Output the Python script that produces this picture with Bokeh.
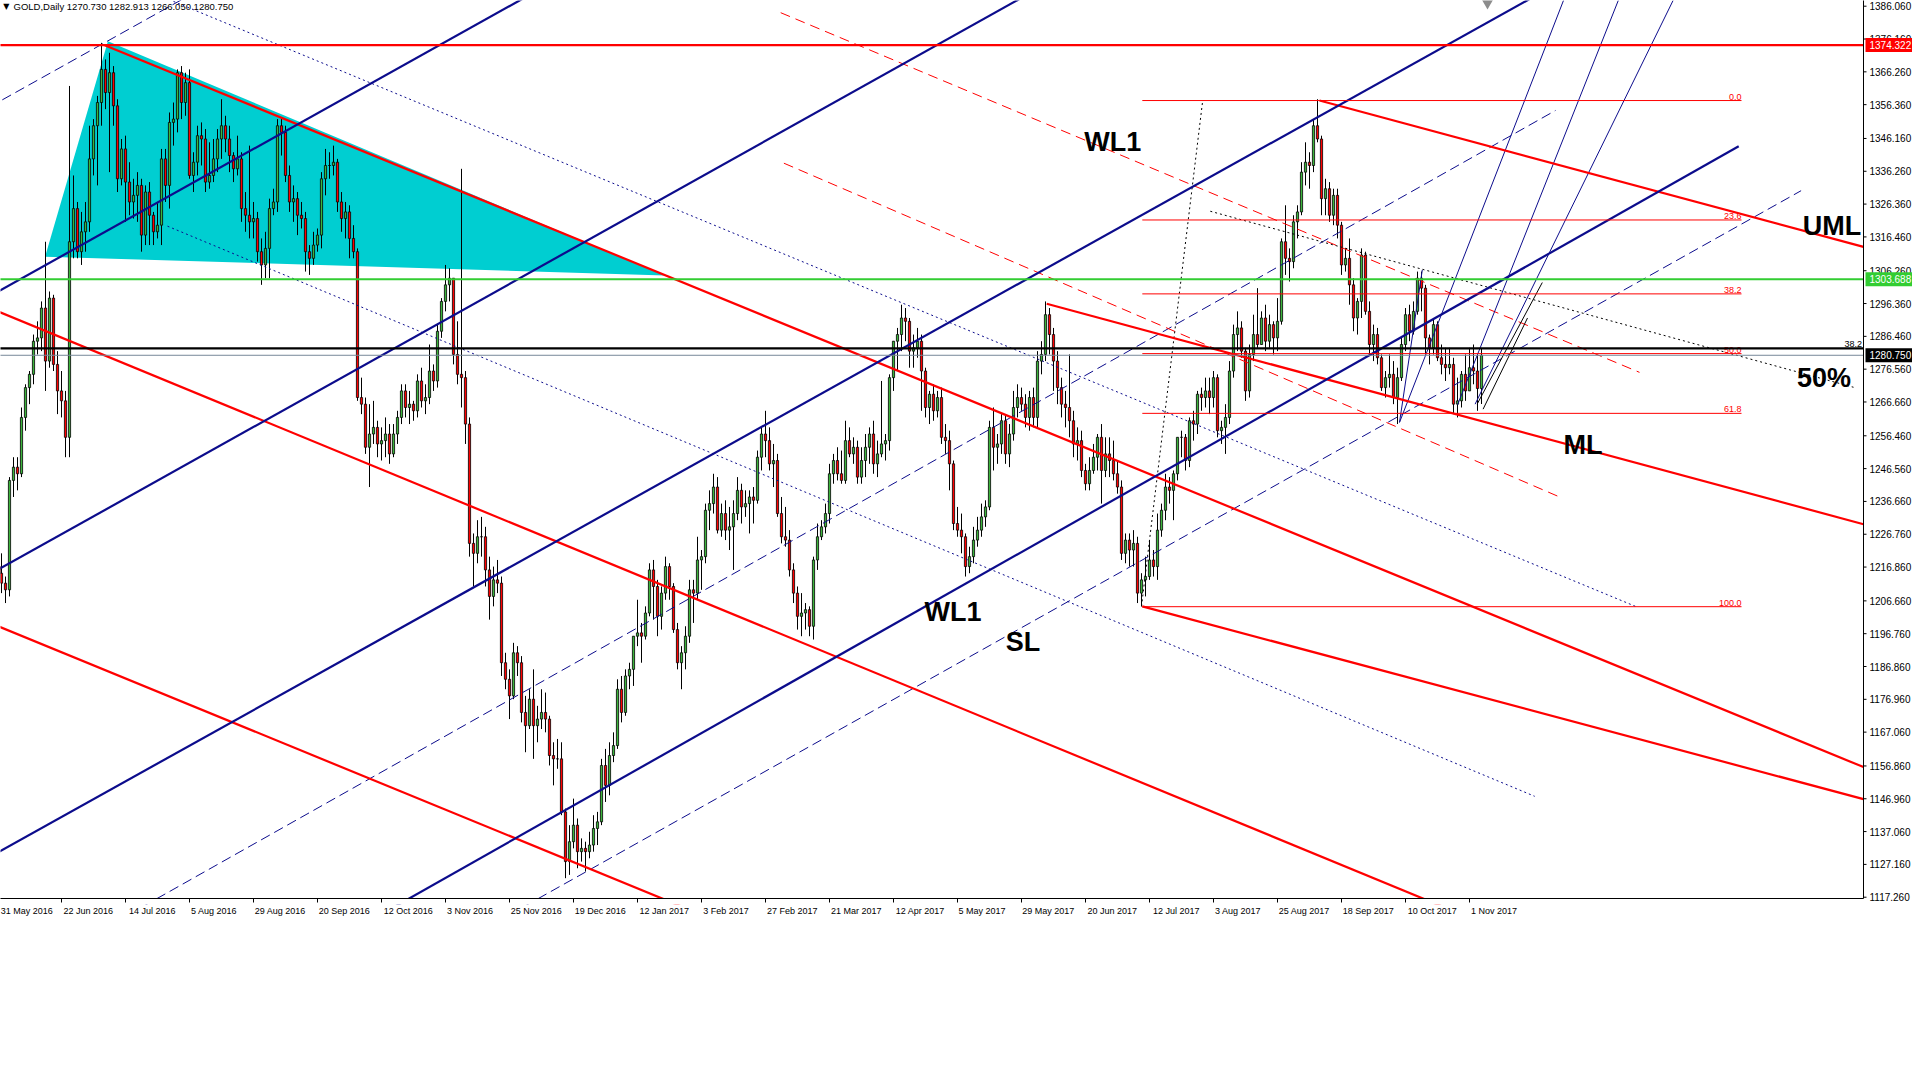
from bokeh.plotting import figure
from bokeh.models import Range1d, FixedTicker, Label
from bokeh.embed import file_html
from bokeh.resources import INLINE
from bokeh.core.properties import value

# ---------- daily bars, GOLD (index = trading day since 31 May 2016) ----------
opens = [
    1217, 1215, 1212, 1210, 1243, 1247, 1245, 1262, 1271, 1275, 1285, 1286, 1295, 1279, 1298, 1278, 1270, 1267, 1256, 1315,
    1325, 1312, 1318, 1321, 1340, 1350, 1357, 1367, 1360, 1366, 1356, 1334, 1343, 1333, 1327, 1329, 1332, 1317, 1330, 1323,
    1318, 1320, 1340, 1332, 1351, 1352, 1366, 1357, 1363, 1335, 1339, 1347, 1346, 1333, 1335, 1340, 1346, 1350, 1346, 1341,
    1337, 1340, 1325, 1323, 1321, 1322, 1312, 1308, 1313, 1325, 1327, 1350, 1348, 1335, 1327, 1328, 1323, 1322, 1312, 1310,
    1314, 1317, 1334, 1338, 1338, 1339, 1327, 1322, 1324, 1316, 1312, 1268, 1266, 1253, 1257, 1259, 1254, 1255, 1257, 1251,
    1257, 1262, 1270, 1265, 1266, 1264, 1273, 1267, 1268, 1276, 1273, 1288, 1297, 1302, 1304, 1281, 1275, 1274, 1260, 1224,
    1221, 1226, 1226, 1216, 1208, 1213, 1212, 1188, 1183, 1178, 1191, 1188, 1173, 1169, 1177, 1169, 1171, 1173, 1171, 1160,
    1159, 1159, 1143, 1128, 1134, 1139, 1131, 1132, 1131, 1133, 1138, 1140, 1157, 1151, 1160, 1163, 1180, 1173, 1184, 1186,
    1196, 1197, 1196, 1203, 1216, 1211, 1202, 1209, 1217, 1211, 1198, 1188, 1191, 1196, 1210, 1209, 1219, 1220, 1234, 1236,
    1241, 1228, 1233, 1228, 1229, 1233, 1240, 1235, 1236, 1238, 1237, 1250, 1257, 1255, 1248, 1249, 1233, 1226, 1225, 1216,
    1209, 1202, 1203, 1204, 1199, 1219, 1226, 1229, 1233, 1245, 1249, 1245, 1243, 1255, 1251, 1253, 1244, 1249, 1253, 1257,
    1248, 1251, 1254, 1255, 1274, 1285, 1287, 1292, 1291, 1282, 1283, 1285, 1276, 1265, 1269, 1264, 1268, 1256, 1255, 1248,
    1230, 1228, 1226, 1217, 1220, 1225, 1228, 1232, 1235, 1259, 1253, 1254, 1261, 1251, 1257, 1265, 1268, 1266, 1262, 1268,
    1262, 1279, 1281, 1293, 1287, 1279, 1271, 1266, 1265, 1261, 1254, 1255, 1246, 1242, 1246, 1250, 1256, 1246, 1251, 1249,
    1245, 1241, 1221, 1225, 1222, 1224, 1209, 1213, 1214, 1219, 1217, 1228, 1234, 1241, 1240, 1245, 1256, 1256, 1249, 1261,
    1260, 1269, 1268, 1270, 1268, 1274, 1258, 1259, 1262, 1276, 1287, 1289, 1282, 1270, 1281, 1287, 1284, 1292, 1285, 1290,
    1286, 1291, 1315, 1310, 1309, 1321, 1324, 1336, 1339, 1338, 1350, 1346, 1328, 1331, 1323, 1329, 1320, 1308, 1310, 1302,
    1292, 1297, 1311, 1294, 1284, 1287, 1280, 1271, 1274, 1275, 1268, 1274, 1284, 1293, 1288, 1294, 1304, 1301, 1286, 1283,
    1290, 1280, 1278, 1277, 1278, 1266, 1267, 1275, 1270, 1277, 1276, 1270.73,
]
highs = [
    1218, 1221, 1214, 1244, 1250, 1250, 1265, 1272, 1276, 1287, 1291, 1297, 1315, 1300, 1299, 1282, 1276, 1270, 1362, 1335,
    1327, 1324, 1327, 1350, 1352, 1359, 1375, 1370, 1372, 1368, 1358, 1346, 1347, 1339, 1334, 1336, 1334, 1332, 1333, 1324,
    1327, 1343, 1343, 1354, 1357, 1367, 1368, 1366, 1367, 1342, 1350, 1351, 1349, 1345, 1346, 1349, 1358, 1353, 1350, 1342,
    1347, 1342, 1330, 1344, 1327, 1324, 1316, 1318, 1328, 1331, 1352, 1352, 1350, 1338, 1332, 1330, 1327, 1324, 1314, 1318,
    1319, 1336, 1343, 1342, 1344, 1340, 1330, 1327, 1326, 1320, 1313, 1274, 1268, 1266, 1267, 1261, 1259, 1262, 1260, 1260,
    1264, 1272, 1272, 1270, 1267, 1275, 1277, 1272, 1284, 1278, 1290, 1298, 1308, 1307, 1304, 1291, 1337, 1276, 1262, 1227,
    1231, 1232, 1229, 1220, 1217, 1219, 1214, 1191, 1186, 1194, 1193, 1190, 1178, 1180, 1186, 1175, 1180, 1179, 1172, 1164,
    1165, 1164, 1144, 1139, 1147, 1141, 1135, 1134, 1137, 1142, 1143, 1159, 1162, 1164, 1167, 1183, 1184, 1186, 1188, 1196,
    1207, 1200, 1205, 1218, 1219, 1213, 1211, 1220, 1218, 1212, 1200, 1193, 1199, 1213, 1213, 1226, 1222, 1236, 1240, 1245,
    1244, 1236, 1237, 1235, 1237, 1244, 1242, 1240, 1240, 1241, 1252, 1259, 1264, 1259, 1254, 1251, 1238, 1235, 1228, 1218,
    1211, 1209, 1206, 1205, 1220, 1230, 1231, 1236, 1248, 1251, 1253, 1252, 1261, 1259, 1256, 1255, 1253, 1257, 1259, 1261,
    1255, 1273, 1257, 1275, 1285, 1289, 1296, 1295, 1292, 1287, 1289, 1287, 1277, 1270, 1272, 1270, 1271, 1260, 1258, 1249,
    1235, 1233, 1227, 1223, 1229, 1232, 1236, 1237, 1261, 1265, 1257, 1263, 1263, 1260, 1270, 1272, 1271, 1269, 1270, 1271,
    1282, 1285, 1297, 1295, 1289, 1282, 1274, 1270, 1281, 1264, 1259, 1258, 1248, 1250, 1254, 1257, 1260, 1256, 1256, 1255,
    1249, 1243, 1227, 1227, 1228, 1226, 1215, 1220, 1225, 1222, 1233, 1236, 1245, 1244, 1246, 1256, 1258, 1257, 1262, 1264,
    1270, 1271, 1274, 1274, 1276, 1275, 1261, 1266, 1279, 1290, 1294, 1291, 1283, 1284, 1293, 1301, 1294, 1296, 1293, 1291,
    1298, 1316, 1326, 1313, 1323, 1326, 1339, 1345, 1342, 1352, 1358, 1347, 1334, 1333, 1331, 1331, 1321, 1313, 1316, 1304,
    1298, 1313, 1312, 1297, 1290, 1289, 1281, 1276, 1281, 1279, 1277, 1286, 1295, 1296, 1297, 1306, 1306, 1302, 1287, 1292,
    1291, 1284, 1283, 1283, 1280, 1274, 1276, 1281, 1283, 1284, 1281, 1282.913,
]
lows = [
    1208, 1209, 1206, 1208, 1238, 1240, 1244, 1258, 1266, 1272, 1281, 1282, 1270, 1277, 1276, 1263, 1262, 1250, 1250, 1310,
    1310, 1308, 1312, 1318, 1335, 1332, 1350, 1355, 1336, 1350, 1330, 1332, 1321, 1323, 1322, 1321, 1312, 1314, 1314, 1314,
    1316, 1314, 1327, 1325, 1344, 1348, 1352, 1353, 1334, 1330, 1335, 1338, 1330, 1331, 1333, 1336, 1340, 1342, 1336, 1333,
    1335, 1321, 1318, 1316, 1316, 1309, 1302, 1304, 1304, 1323, 1324, 1341, 1333, 1324, 1321, 1317, 1319, 1306, 1305, 1308,
    1312, 1313, 1329, 1334, 1335, 1324, 1318, 1316, 1310, 1310, 1267, 1263, 1251, 1241, 1254, 1250, 1249, 1250, 1248, 1250,
    1254, 1260, 1262, 1260, 1261, 1262, 1265, 1263, 1266, 1270, 1271, 1286, 1294, 1297, 1278, 1272, 1265, 1254, 1220, 1211,
    1218, 1220, 1211, 1201, 1205, 1209, 1184, 1180, 1171, 1177, 1184, 1170, 1161, 1168, 1159, 1164, 1168, 1167, 1157, 1151,
    1156, 1142, 1123, 1124, 1132, 1126, 1128, 1125, 1129, 1131, 1133, 1139, 1146, 1148, 1158, 1162, 1170, 1172, 1180, 1181,
    1193, 1188, 1195, 1202, 1201, 1196, 1198, 1207, 1207, 1197, 1186, 1180, 1186, 1194, 1200, 1207, 1210, 1218, 1228, 1233,
    1227, 1226, 1225, 1222, 1216, 1231, 1230, 1232, 1227, 1230, 1236, 1246, 1250, 1246, 1241, 1232, 1224, 1223, 1214, 1206,
    1198, 1196, 1198, 1196, 1195, 1216, 1225, 1227, 1230, 1242, 1243, 1242, 1242, 1250, 1248, 1242, 1242, 1244, 1248, 1245,
    1244, 1250, 1249, 1252, 1270, 1276, 1282, 1285, 1277, 1277, 1280, 1264, 1262, 1260, 1261, 1262, 1254, 1251, 1240, 1228,
    1226, 1221, 1214, 1215, 1218, 1223, 1226, 1229, 1234, 1246, 1248, 1251, 1248, 1247, 1255, 1262, 1264, 1259, 1258, 1259,
    1259, 1275, 1279, 1281, 1270, 1266, 1262, 1259, 1256, 1250, 1249, 1244, 1240, 1240, 1245, 1246, 1236, 1244, 1244, 1243,
    1239, 1219, 1218, 1217, 1217, 1206, 1205, 1208, 1213, 1214, 1213, 1226, 1231, 1236, 1231, 1243, 1250, 1246, 1247, 1255,
    1257, 1264, 1265, 1263, 1265, 1256, 1254, 1251, 1260, 1274, 1282, 1280, 1267, 1268, 1279, 1283, 1284, 1282, 1283, 1281,
    1282, 1290, 1305, 1303, 1307, 1316, 1323, 1332, 1331, 1336, 1345, 1323, 1323, 1321, 1320, 1316, 1305, 1306, 1296, 1288,
    1287, 1292, 1293, 1281, 1279, 1278, 1270, 1268, 1271, 1266, 1260, 1273, 1282, 1285, 1287, 1293, 1294, 1281, 1278, 1281,
    1279, 1275, 1273, 1275, 1263, 1262, 1265, 1267, 1270, 1272, 1264, 1266.05,
]
closes = [
    1215, 1212, 1210, 1243, 1247, 1245, 1262, 1271, 1275, 1285, 1286, 1295, 1279, 1298, 1278, 1270, 1267, 1256, 1315, 1325,
    1312, 1318, 1321, 1340, 1350, 1357, 1367, 1360, 1366, 1356, 1334, 1343, 1333, 1327, 1329, 1332, 1317, 1330, 1323, 1318,
    1320, 1340, 1332, 1351, 1352, 1366, 1357, 1363, 1335, 1339, 1347, 1346, 1333, 1335, 1340, 1346, 1350, 1346, 1341, 1337,
    1340, 1325, 1323, 1321, 1322, 1312, 1308, 1313, 1325, 1327, 1350, 1348, 1335, 1327, 1328, 1323, 1322, 1312, 1310, 1314,
    1317, 1334, 1338, 1338, 1339, 1327, 1322, 1324, 1316, 1312, 1268, 1266, 1253, 1257, 1259, 1254, 1255, 1257, 1251, 1257,
    1262, 1270, 1265, 1266, 1264, 1273, 1267, 1268, 1276, 1273, 1288, 1297, 1302, 1304, 1281, 1275, 1274, 1260, 1224, 1221,
    1226, 1226, 1216, 1208, 1213, 1212, 1188, 1183, 1178, 1191, 1188, 1173, 1169, 1177, 1169, 1171, 1173, 1171, 1160, 1159,
    1159, 1143, 1128, 1134, 1139, 1131, 1132, 1131, 1133, 1138, 1140, 1157, 1151, 1160, 1163, 1180, 1173, 1184, 1186, 1196,
    1197, 1196, 1203, 1216, 1211, 1202, 1209, 1217, 1211, 1198, 1188, 1191, 1196, 1210, 1209, 1219, 1220, 1234, 1236, 1241,
    1228, 1233, 1228, 1229, 1233, 1240, 1235, 1236, 1238, 1237, 1250, 1257, 1255, 1248, 1249, 1233, 1226, 1225, 1216, 1209,
    1202, 1203, 1204, 1199, 1219, 1226, 1229, 1233, 1245, 1249, 1245, 1243, 1255, 1251, 1253, 1244, 1249, 1253, 1257, 1248,
    1251, 1254, 1255, 1274, 1285, 1287, 1292, 1291, 1282, 1283, 1285, 1276, 1265, 1269, 1264, 1268, 1256, 1255, 1248, 1230,
    1228, 1226, 1217, 1220, 1225, 1228, 1232, 1235, 1259, 1253, 1254, 1261, 1251, 1257, 1265, 1268, 1266, 1262, 1268, 1262,
    1279, 1281, 1293, 1287, 1279, 1271, 1266, 1265, 1261, 1254, 1255, 1246, 1242, 1246, 1250, 1256, 1246, 1251, 1249, 1245,
    1241, 1221, 1225, 1222, 1224, 1209, 1213, 1214, 1219, 1217, 1228, 1234, 1241, 1240, 1245, 1256, 1256, 1249, 1261, 1260,
    1269, 1268, 1270, 1268, 1274, 1258, 1259, 1262, 1276, 1287, 1289, 1282, 1270, 1281, 1287, 1284, 1292, 1285, 1290, 1286,
    1291, 1315, 1310, 1309, 1321, 1324, 1336, 1339, 1338, 1350, 1346, 1328, 1331, 1323, 1329, 1320, 1308, 1310, 1302, 1292,
    1297, 1311, 1294, 1284, 1287, 1280, 1271, 1274, 1275, 1268, 1274, 1284, 1293, 1288, 1294, 1304, 1301, 1286, 1283, 1290,
    1280, 1278, 1277, 1278, 1266, 1267, 1275, 1270, 1277, 1276, 1270.73, 1280.75,
]

date_labels = ["31 May 2016", "22 Jun 2016", "14 Jul 2016", "5 Aug 2016", "29 Aug 2016", "20 Sep 2016",
               "12 Oct 2016", "3 Nov 2016", "25 Nov 2016", "19 Dec 2016", "12 Jan 2017", "3 Feb 2017",
               "27 Feb 2017", "21 Mar 2017", "12 Apr 2017", "5 May 2017", "29 May 2017", "20 Jun 2017",
               "12 Jul 2017", "3 Aug 2017", "25 Aug 2017", "18 Sep 2017", "10 Oct 2017", "1 Nov 2017"]
bars_per_label = 16

price_ticks = [1386.060, 1376.160, 1366.260, 1356.360, 1346.160, 1336.260, 1326.360, 1316.460, 1306.260,
               1296.360, 1286.460, 1276.560, 1266.660, 1256.460, 1246.560, 1236.660, 1226.760, 1216.860,
               1206.660, 1196.760, 1186.860, 1176.960, 1167.060, 1156.860, 1146.960, 1137.060, 1127.160, 1117.260]

header = "GOLD,Daily  1270.730 1282.913 1266.050 1280.750"

# ---------- objects drawn on the chart: (bar0, price0, bar1, price1, extend) ----------
red_thick = [
    (26.8, 1374.3, 425.75, 1176.7, "right"),   # from the July 2016 top
    (0.5, 1293.8, 356.3, 1116.9, "both"),
    (0.75, 1198.7, 166.1, 1116.9, "both"),
    (262.3, 1296.3, 308.35, 1281.3, "right"),  # ML
    (330.5, 1357.6, 466.4, 1313.5, "right"),   # UML
    (286.2, 1205.0, 425.75, 1160.0, "right"),
]
red_dashed = [
    (195.8, 1384.1, 410.5, 1275.6, "none"),
    (196.6, 1338.7, 391.3, 1237.6, "none"),
]
blue_thick = [
    (0.49, 1300.2, 130.1, 1387.5, "both"),
    (0.49, 1216.3, 254.4, 1387.5, "both"),
    (0.75, 1131.2, 382.4, 1387.8, "both"),
    (175.75, 1166.6, 435.3, 1343.8, "left"),   # WL1
]
blue_dashed = [
    (0.6, 1357.4, 46.0, 1388.0, "both"),
    (37.6, 1115.3, 389.5, 1354.6, "left"),
    (132.9, 1115.3, 450.9, 1330.4, "left"),    # SL
]
blue_dotted = [
    (44.0, 1387.5, 409.5, 1205.0, "none"),
    (42.5, 1319.7, 384.3, 1147.7, "none"),
]
blue_thin = [
    (350.5, 1260.5, 356.2, 1306.5, "none"),
    (350.5, 1260.5, 391.5, 1387.8, "none"),
    (365.0, 1265.8, 405.2, 1387.8, "none"),
    (369.4, 1266.0, 418.9, 1387.8, "none"),
]
black_thin = [
    (369.9, 1266.0, 386.2, 1302.7, "none"),
    (371.4, 1264.5, 382.5, 1292.0, "none"),
]
black_dotted = [
    (286.0, 1205.0, 301.3, 1357.6, "none"),
    (303.2, 1324.2, 464.0, 1271.1, "none"),    # 50%
]
triangle_bars = [27.6, 11.9, 166.9]
triangle_prices = [1375.5, 1310.5, 1304.8]

fib_levels = [1357.60, 1321.57, 1299.27, 1281.25, 1263.23, 1204.90]
fib_names = ["0.0", "23.6", "38.2", "50.0", "61.8", "100.0"]
fib_from, fib_to = 286.2, 436.0

level_prices = [1374.322, 1303.688, 1282.84, 1280.75]
level_colors = ["#FF0000", "#32CD32", "#000000", "#778899"]
level_widths = [2.2, 2.2, 2.2, 1]

notes = ["WL1", "UML", "50%", "ML", "WL1", "SL"]
note_bars = [278.8, 458.6, 456.6, 396.4, 238.9, 256.4]
note_prices = [1345.0, 1319.8, 1273.8, 1253.8, 1203.4, 1194.2]

tag_prices = [1374.322, 1303.688, 1280.750]
tag_colors = ["#FF0000", "#32CD32", "#000000"]

RED = "#FF0000"
NAVY = "#0C0C8C"

PX_PER_BAR = 4.0
PX_PER_USD = 898 / (1387.78 - 1116.87)
X0, XAXIS = 0.75, 466.5           # left edge of the chart, price scale position
Y0, Y1 = 1116.87, 1387.78         # time axis line, top edge
FRAME_W, FRAME_H = 1912, 904      # frame also holds the price scale and a strip under the time axis
X1 = X0 + FRAME_W / PX_PER_BAR
YLOW = Y1 - FRAME_H / PX_PER_USD


def stretch(seg):
    i0, p0, i1, p1, ext = seg
    k = (p1 - p0) / (i1 - i0)
    if ext in ("left", "both"):
        i0, p0 = -300.0, p0 + k * (-300.0 - i0)
    if ext in ("right", "both") or i1 > XAXIS:
        i1, p1 = XAXIS, p1 + k * (XAXIS - i1)
    return i0, p0, i1, p1


def draw(segs, color, width, dash="solid"):
    pts = [stretch(s) for s in segs]
    p.segment(x0=[a[0] for a in pts], y0=[a[1] for a in pts],
              x1=[a[2] for a in pts], y1=[a[3] for a in pts],
              line_color=color, line_width=width, line_dash=dash)


p = figure(frame_width=FRAME_W, frame_height=FRAME_H,
           x_range=Range1d(X0, X1), y_range=Range1d(YLOW, Y1),
           y_axis_location=None, toolbar_location=None, output_backend="svg",
           min_border_left=0, min_border_top=0, min_border_right=0, min_border_bottom=0)
p.grid.visible = False
p.outline_line_color = None
p.background_fill_color = "white"
p.border_fill_color = "white"

# time axis labels (line and tick marks are drawn below, inside the frame);
# each label starts just right of its tick, the first one is kept inside the window
ticks_at = [k * bars_per_label for k in range(len(date_labels))]
label_pos = [round(t + (1.5 + 4.6 * len(s) / 2) / PX_PER_BAR, 3) for t, s in zip(ticks_at, date_labels)]
label_pos[0] = round(X0 + (1 + 4.6 * len(date_labels[0]) / 2) / PX_PER_BAR, 3)
p.xaxis.ticker = FixedTicker(ticks=label_pos)
p.xaxis.major_label_overrides = {pos: s for pos, s in zip(label_pos, date_labels)}
p.xaxis.axis_line_color = None
p.xaxis.major_tick_line_color = None
p.xaxis.minor_tick_line_color = None
p.xaxis.major_tick_out = 0
p.xaxis.major_tick_in = 0
p.xaxis.major_label_standoff = 1
p.xaxis.major_label_text_font = "Liberation Sans"
p.xaxis.major_label_text_font_size = "9px"
p.xaxis.major_label_text_color = "black"

# filled triangle (behind the bars)
p.patch(triangle_bars, triangle_prices, fill_color="#00CED1", line_color=None)

# candles
idx = list(range(len(closes)))
tops = [max(o, c) for o, c in zip(opens, closes)]
bots = [min(o, c) for o, c in zip(opens, closes)]
fills = ["#3CB43C" if c >= o else "#FF0000" for o, c in zip(opens, closes)]
p.segment(x0=idx, y0=lows, x1=idx, y1=highs, line_color="black", line_width=1)
p.vbar(x=idx, width=0.55, top=tops, bottom=bots, fill_color=fills, line_color="black", line_width=0.8)

# trend lines / channels
draw(blue_dotted, NAVY, 1, "2 3")
draw(blue_dashed, NAVY, 1, "10 5")
draw(red_dashed, RED, 1, "10 6")
draw(black_dotted, "black", 1, "2 3")
draw(blue_thin, NAVY, 1)
draw(black_thin, "black", 1)
draw(red_thick, RED, 2.2)
draw(blue_thick, NAVY, 2.2)

# fibonacci retracement
p.segment(x0=[fib_from] * len(fib_levels), y0=fib_levels, x1=[fib_to] * len(fib_levels), y1=fib_levels,
          line_color=RED, line_width=1)
p.text(x=[fib_to] * len(fib_levels), y=fib_levels, text=fib_names, text_color=RED,
       text_font=value("Liberation Sans"), text_font_size="9px", text_align="right",
       text_baseline="bottom", y_offset=-1)

# horizontal levels, stopping at the price scale
p.segment(x0=[X0 - 5] * len(level_prices), y0=level_prices, x1=[XAXIS] * len(level_prices), y1=level_prices,
          line_color=level_colors, line_width=level_widths)
p.text(x=[XAXIS - 0.4], y=[1283.3], text=["38.2"], text_color="black", text_font=value("Liberation Sans"),
       text_font_size="9px", text_align="right", text_baseline="bottom")

# big notes
p.text(x=note_bars, y=note_prices, text=notes, text_color="black",
       text_font=value("Liberation Sans"), text_font_style="bold", text_font_size="27px",
       text_align="center", text_baseline="middle")

# chart shift marker
p.scatter(x=[372.5], y=[1387.0], marker="inverted_triangle", size=11, fill_color="#8C8C8C", line_color=None)

# white strip under the time axis, then the axis line and its tick marks
p.quad(left=[X0 - 5], right=[X1 + 5], bottom=[YLOW - 5], top=[Y0], fill_color="white", line_color=None)
p.segment(x0=[X0 - 1], y0=[Y0], x1=[XAXIS], y1=[Y0], line_color="black", line_width=1)
p.segment(x0=ticks_at, y0=[Y0] * len(ticks_at), x1=ticks_at, y1=[Y0 - 4 / PX_PER_USD] * len(ticks_at),
          line_color="black", line_width=1)

# price scale drawn inside the frame, so the coloured tags can sit on it
n = len(price_ticks)
p.segment(x0=[XAXIS], y0=[Y0], x1=[XAXIS], y1=[Y1 + 1], line_color="black", line_width=1)
p.segment(x0=[XAXIS] * n, y0=price_ticks, x1=[XAXIS + 3 / PX_PER_BAR] * n, y1=price_ticks,
          line_color="black", line_width=1)
p.text(x=[XAXIS] * n, y=price_ticks, text=[f"{v:.3f}" for v in price_ticks], x_offset=6,
       text_color="black", text_font=value("Liberation Sans"), text_font_size="10px",
       text_align="left", text_baseline="middle")
p.rect(x=[XAXIS + 25.5 / PX_PER_BAR] * len(tag_prices), y=tag_prices, width=47, height=14,
       width_units="screen", height_units="screen", fill_color=tag_colors, line_color=None)
p.text(x=[XAXIS] * len(tag_prices), y=tag_prices, text=[f"{v:.3f}" for v in tag_prices], x_offset=6,
       text_color="white", text_font=value("Liberation Sans"), text_font_size="10px",
       text_align="left", text_baseline="middle")

# header
p.add_layout(Label(x=2.2, y=1385.9, text="\u25BC", text_align="center", text_baseline="middle",
                   text_font="DejaVu Sans", text_font_size="8px", text_color="black"))
p.add_layout(Label(x=4.0, y=1385.9, text=header, text_align="left", text_baseline="middle",
                   text_font="Liberation Sans", text_font_size="9.5px", text_color="black"))

open("out.html", "w").write(file_html(p, INLINE))
